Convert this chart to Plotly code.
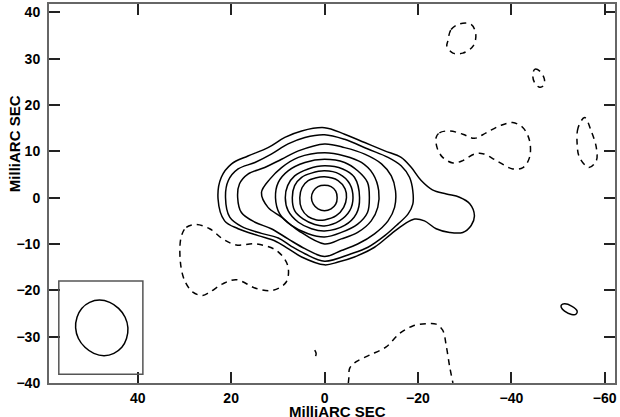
import plotly.graph_objects as go

# ---- positive (solid) contours, milliarcsec ----
c1_x = [22.8, 22.1, 19.9, 16.4, 12.1, 8.5, 4.9, 0.0, -4.3, -8.6, -12.9, -16.4, -18.6, -20.7, -23.1, -26.1,
        -28.9, -31.1, -32.1, -31.4, -29.6, -26.8, -23.9, -21.4, -19.3, -17.1, -14.3, -10.7, -6.4, -2.9, 0.0,
        4.9, 7.8, 10.7, 14.2, 18.5, 21.4]
c1_y = [-0.3, 4.4, 7.3, 9.0, 10.8, 13.0, 14.4, 15.1, 13.7, 11.9, 10.1, 8.7, 6.5, 3.7, 1.7, 0.8,
        0.1, -1.3, -3.9, -6.0, -7.5, -7.5, -6.7, -5.0, -4.6, -5.7, -7.8, -10.7, -12.8, -13.9, -14.5,
        -12.8, -11.0, -9.3, -8.2, -6.7, -5.0]

c2_x = [21.2, 20.6, 18.5, 14.9, 11.4, 7.8, 4.2, 0.0, -4.3, -9.3, -13.6, -16.4, -18.2, -18.9, -18.9, -17.9,
        -15.7, -12.9, -9.3, -5.7, 0.0, 4.2, 7.1, 9.9, 13.5, 17.8, 20.3]
c2_y = [0.0, 3.7, 6.2, 7.6, 9.4, 11.6, 13.0, 13.6, 12.6, 10.5, 8.7, 6.9, 4.4, 1.5, -1.4, -3.5,
        -5.7, -8.2, -10.7, -12.1, -13.7, -12.1, -10.5, -8.7, -7.7, -6.2, -4.2]

c3_x = [18.6, 18.2, 16.4, 12.8, 9.2, 5.6, 0.0, -4.3, -8.6, -12.2, -14.3, -15.2, -15.0, -13.6, -10.7, -7.1,
        -3.6, 0.0, 4.2, 7.8, 11.4, 14.9, 17.8]
c3_y = [0.0, 3.0, 5.1, 6.5, 8.3, 10.1, 11.6, 10.8, 9.4, 7.3, 4.7, 1.5, -2.1, -5.0, -7.8, -10.0,
        -11.4, -12.7, -11.0, -8.9, -6.7, -5.3, -3.2]

c4_x = [13.5, 11.7, 9.2, 5.6, 0.0, -4.3, -7.9, -10.4, -11.6, -11.4, -10.0, -7.1, -3.6, 0.0, 5.6, 9.2, 12.1]
c4_y = [1.1, 4.0, 6.5, 8.7, 9.7, 9.0, 7.6, 5.1, 1.5, -2.1, -5.0, -7.5, -8.9, -10.0, -7.1, -4.2, -2.1]

c5_x = [10.5, 9.9, 7.8, 4.2, 0.0, -4.3, -7.1, -9.2, -9.6, -9.2, -7.1, -3.6, 0.0, 3.5, 7.1, 9.6]
c5_y = [0.0, 3.3, 5.8, 7.6, 8.3, 7.6, 5.8, 3.3, 0.0, -3.2, -5.7, -7.5, -8.5, -7.8, -6.0, -3.5]

c6_x = [8.4, 7.9, 6.4, 3.5, 0.0, -3.9, -6.4, -7.5, -6.8, -4.3, 0.0, 2.8, 5.6, 7.8]
c6_y = [0.0, 2.6, 4.7, 6.2, 6.9, 6.2, 4.4, 0.0, -3.5, -6.0, -7.2, -6.7, -5.3, -2.8]

c7_x = [6.9, 6.4, 4.9, 2.8, 0.0, -3.2, -5.4, -6.1, -5.4, -3.2, 0.0, 2.1, 4.6, 6.4]
c7_y = [0.0, 2.6, 4.4, 5.3, 5.8, 5.1, 3.0, 0.0, -2.8, -5.0, -6.1, -5.8, -4.6, -2.8]

c8_x = [5.3, 4.8, 3.5, 2.1, 0.0, -2.9, -4.4, -4.7, -4.1, -2.5, 0.0, 1.7, 3.5, 4.9]
c8_y = [0.0, 2.2, 3.7, 4.2, 4.5, 3.7, 1.9, 0.0, -2.1, -3.9, -4.8, -4.8, -4.1, -2.4]

c9_x = [2.8, 2.4, 1.4, 0.0, -1.4, -2.4, -2.7, -2.4, -1.4, 0.0, 1.4, 2.4]
c9_y = [0.0, 1.4, 2.4, 2.7, 2.4, 1.4, 0.0, -1.4, -2.4, -2.8, -2.4, -1.4]

# small isolated positive bits
blob_x = [-50.7, -51.4, -52.9, -54.1, -53.8, -52.9, -51.4, -50.7]
blob_y = [-23.2, -22.9, -23.4, -24.5, -25.2, -25.2, -24.5, -23.7]
tick_x = [2.1, 1.8, 1.9]
tick_y = [-32.9, -33.6, -34.2]

# ---- negative (dashed) contours ----
n1_x = [30.7, 29.6, 27.5, 24.6, 21.8, 18.9, 14.6, 10.3, 7.9, 8.2, 11.1, 14.6, 18.9, 21.8, 24.6, 26.1,
        28.2, 30.0, 30.9]
n1_y = [-8.5, -6.4, -5.8, -6.7, -8.9, -10.2, -10.0, -11.4, -14.6, -18.2, -20.0, -19.6, -17.7, -18.6,
        -20.4, -21.1, -20.4, -17.8, -13.5]

n2_x = [-26.4, -27.1, -28.9, -31.4, -32.4, -31.8, -29.6, -27.5, -26.2]
n2_y = [33.8, 36.3, 37.5, 37.4, 35.2, 32.7, 31.2, 31.2, 32.7]

n3_x = [-44.6, -45.0, -46.1, -47.1, -46.8, -45.9, -45.0]
n3_y = [26.2, 27.7, 27.3, 25.5, 24.1, 23.9, 24.8]

n4_x = [-23.9, -24.6, -26.8, -29.6, -32.1, -34.6, -37.5, -40.3, -42.5, -43.9, -43.9, -42.5, -40.3, -36.8,
        -33.9, -32.1, -29.6, -27.5, -25.3, -24.1]
n4_y = [13.0, 14.0, 14.4, 13.7, 12.8, 14.0, 15.5, 16.2, 15.1, 12.3, 8.7, 6.5, 6.2, 8.0,
        9.5, 9.4, 8.0, 7.5, 8.7, 10.8]

n5_x = [-55.7, -54.3, -54.1, -54.6, -56.6, -58.2, -58.2, -57.1]
n5_y = [17.3, 15.1, 11.5, 8.7, 6.5, 8.0, 10.8, 14.4]

n6_x = [-5.1, -5.2, -5.4, -6.8, -9.6, -13.2, -16.1, -18.9, -21.8, -23.9, -25.3, -26.1, -26.8, -27.5]
n6_y = [-40.0, -39.0, -36.8, -35.4, -34.0, -32.2, -29.3, -27.7, -27.2, -27.3, -28.6, -32.2, -36.5, -40.0]

# ---- restoring beam (lower-left inset) ----
beam_x = [48.2, 46.0, 44.1, 42.7, 42.1, 42.4, 43.4, 45.1, 47.2, 49.4, 51.3, 52.7, 53.3, 53.0, 52.0, 50.3]
beam_y = [-22.1, -22.6, -23.9, -25.8, -28.1, -30.4, -32.3, -33.6, -34.1, -33.6, -32.3, -30.4, -28.1,
          -25.8, -23.9, -22.6]
beam_box = dict(x0=56.9, x1=38.9, y0=-38.1, y1=-18.0)

x_ticks = [40, 20, 0, -20, -40, -60]
y_ticks = [40, 30, 20, 10, 0, -10, -20, -30, -40]

closed_solid = [(c1_x, c1_y), (c2_x, c2_y), (c3_x, c3_y), (c4_x, c4_y), (c5_x, c5_y),
                (c6_x, c6_y), (c7_x, c7_y), (c8_x, c8_y), (c9_x, c9_y), (blob_x, blob_y),
                (beam_x, beam_y)]
closed_dashed = [(n1_x, n1_y), (n2_x, n2_y), (n3_x, n3_y), (n4_x, n4_y), (n5_x, n5_y)]

fig = go.Figure()


def add_line(xs, ys, dash, closed=True):
    if closed:
        xs = list(xs) + [xs[0]]
        ys = list(ys) + [ys[0]]
    fig.add_trace(go.Scatter(
        x=xs, y=ys, mode='lines', hoverinfo='skip', showlegend=False,
        line=dict(color='black', width=1.5, dash=dash, shape='spline', smoothing=1.0),
    ))


for xs, ys in closed_solid:
    add_line(xs, ys, 'solid')
for xs, ys in closed_dashed:
    add_line(xs, ys, '6px,5px')
add_line(n6_x, n6_y, '6px,5px', closed=False)
add_line(tick_x, tick_y, 'solid', closed=False)

fig.add_shape(type='rect', xref='x', yref='y', line=dict(color='#555555', width=1.5), **beam_box)

axis_font = dict(family='Liberation Sans, Arial, sans-serif', size=14, color='black', weight='bold')
common = dict(showgrid=False, zeroline=False, showline=True, linecolor='#666666', linewidth=2,
              mirror='ticks', ticks='inside', ticklen=11, tickwidth=1.5, tickcolor='#222222',
              tickfont=axis_font)

fig.update_xaxes(range=[59.0, -62.2], tickvals=x_ticks, ticklabelstandoff=1, **common)
fig.update_yaxes(range=[-40, 41.8], tickvals=y_ticks, ticklabelstandoff=4, **common)

title_font = dict(family='Liberation Sans, Arial, sans-serif', size=15, color='black', weight='bold')
fig.add_annotation(text='MilliARC SEC', xref='paper', yref='paper', x=0.51, y=-0.076,
                   xanchor='center', yanchor='middle', showarrow=False, font=title_font)
fig.add_annotation(text='MilliARC SEC', xref='paper', yref='paper', x=-0.062, y=0.6325,
                   xanchor='center', yanchor='middle', textangle=-90, showarrow=False, font=title_font)

fig.update_layout(
    width=620, height=417,
    margin=dict(l=49, r=5, t=2, b=34),
    plot_bgcolor='white', paper_bgcolor='white',
)

# the page's default body margin would shift the figure by 8px
fig.write_html("out.html", config={'displayModeBar': False},
               post_script="document.body.style.margin='0';")
